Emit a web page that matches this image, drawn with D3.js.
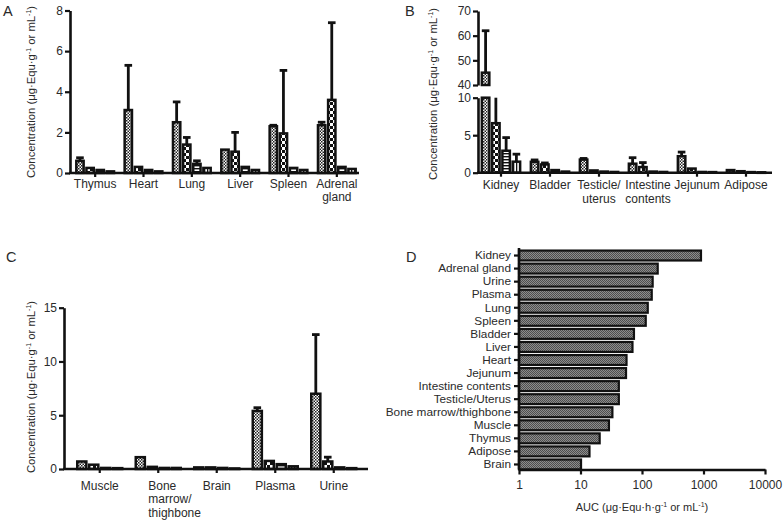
<!DOCTYPE html>
<html><head><meta charset="utf-8">
<script src="https://cdn.jsdelivr.net/npm/d3@7"></script>
<style>
body{margin:0;background:#fff;}
svg text{font-family:"Liberation Sans",Arial,sans-serif;fill:#2a2a2a;}
</style></head><body>
<svg id="chart" width="784" height="520"></svg>
<script>
// ---------------- data ----------------
const timePoints = ["t1", "t2", "t3", "t4"];

const catsA = ["Thymus", "Heart", "Lung", "Liver", "Spleen", "Adrenal gland"];
const labelsA = [["Thymus"], ["Heart"], ["Lung"], ["Liver"], ["Spleen"], ["Adrenal", "gland"]];
const meanA = [[0.6, 0.25, 0.15, 0.08], [3.1, 0.3, 0.15, 0.08], [2.5, 1.4, 0.45, 0.25],
               [1.15, 1.05, 0.3, 0.15], [2.3, 1.95, 0.25, 0.15], [2.35, 3.6, 0.3, 0.2]];
const sdA = [[0.15, 0, 0, 0], [2.2, 0, 0, 0], [1.0, 0.35, 0.15, 0],
             [0, 0.95, 0, 0], [0.05, 3.1, 0, 0], [0.15, 3.8, 0, 0]];
const ticksA = [0, 2, 4, 6, 8];

const catsB = ["Kidney", "Bladder", "Testicle/uterus", "Intestine contents", "Jejunum", "Adipose"];
const labelsB = [["Kidney"], ["Bladder"], ["Testicle/", "uterus"], ["Intestine", "contents"], ["Jejunum"], ["Adipose"]];
const meanB = [[45, 6.6, 2.93, 1.47], [1.45, 1.1, 0.35, 0.15], [1.75, 0.3, 0.15, 0.1],
               [1.2, 0.75, 0.15, 0.1], [2.2, 0.55, 0.1, 0.08], [0.35, 0.2, 0.08, 0.05]];
const sdB = [[17, 6.5, 1.75, 1.0], [0.25, 0.2, 0, 0], [0.15, 0, 0, 0],
             [0.8, 0.6, 0, 0], [0.55, 0, 0, 0], [0, 0, 0, 0]];
const ticksBLow = [0, 5, 10];
const ticksBHigh = [40, 50, 60, 70];

const catsC = ["Muscle", "Bone marrow/thighbone", "Brain", "Plasma", "Urine"];
const labelsC = [["Muscle"], ["Bone", "marrow/", "thighbone"], ["Brain"], ["Plasma"], ["Urine"]];
const meanC = [[0.7, 0.4, 0.1, 0.08], [1.1, 0.2, 0.1, 0.1], [0.15, 0.15, 0.1, 0.05],
               [5.4, 0.75, 0.45, 0.25], [7.0, 0.7, 0.15, 0.08]];
const sdC = [[0, 0, 0, 0], [0, 0, 0, 0], [0, 0, 0, 0], [0.3, 0, 0, 0], [5.5, 0.4, 0, 0]];
const ticksC = [0, 5, 10, 15];

const catsD = ["Kidney", "Adrenal gland", "Urine", "Plasma", "Lung", "Spleen", "Bladder", "Liver",
               "Heart", "Jejunum", "Intestine contents", "Testicle/Uterus", "Bone marrow/thighbone",
               "Muscle", "Thymus", "Adipose", "Brain"];
const aucD = [910, 180, 149, 144, 124, 115, 74, 70, 56, 55, 42, 42, 33, 29, 20.5, 14, 10.2];
const ticksD = [1, 10, 100, 1000, 10000];

// ---------------- drawing ----------------
const svg = d3.select("#chart");
const INK = "#111";
const defs = svg.append("defs");

function pattern(id, w, h, bg, shapes) {
  const p = defs.append("pattern").attr("id", id).attr("width", w).attr("height", h)
    .attr("patternUnits", "userSpaceOnUse");
  p.append("rect").attr("width", w).attr("height", h).attr("fill", bg);
  shapes.forEach(s => p.append("rect").attr("x", s[0]).attr("y", s[1]).attr("width", s[2]).attr("height", s[3]).attr("fill", s[4]));
}
pattern("pat0", 3, 3, "#fff", [[0, 0, 1.5, 1.5, "#222"], [1.5, 1.5, 1.5, 1.5, "#222"]]);
pattern("pat1", 6, 6, "#fff", [[0, 0, 3, 3, "#111"], [3, 3, 3, 3, "#111"]]);
pattern("pat2", 4, 3, "#fff", [[0, 0, 4, 1.4, "#111"]]);
pattern("pat3", 3, 4, "#fff", [[0, 0, 1.3, 4, "#111"]]);
pattern("patD", 2, 2, "#8c8c8c", [[0, 0, 1, 1, "#4e4e4e"], [1, 1, 1, 1, "#4e4e4e"]]);

function styleAxis(g, fs) {
  g.selectAll("path.domain").attr("stroke", INK).attr("stroke-width", 2.6);
  g.selectAll(".tick line").attr("stroke", INK).attr("stroke-width", 2.2);
  g.selectAll(".tick text").attr("font-size", fs || 12).attr("fill", "#2a2a2a")
    .attr("font-family", "'Liberation Sans', Arial, sans-serif");
}

function unitText(t, head) {
  t.append("tspan").text(head);
  t.append("tspan").text("-1").attr("font-size", 7).attr("dy", -4.5);
  t.append("tspan").text(" or mL").attr("dy", 4.5);
  t.append("tspan").text("-1").attr("font-size", 7).attr("dy", -4.5);
  t.append("tspan").text(")").attr("dy", 4.5);
}

function yTitle(x, y) {
  const t = svg.append("text").attr("transform", `translate(${x},${y}) rotate(-90)`)
    .attr("text-anchor", "middle").attr("font-size", 11.3).attr("fill", "#333");
  unitText(t, "Concentration (μg·Equ·g");
}

function panelLetter(x, y, s) {
  svg.append("text").attr("x", x).attr("y", y).attr("font-size", 14.5).attr("fill", "#222").text(s);
}

// grouped bar panel with one or more y segments
function groupedPanel(opt) {
  const x = d3.scaleBand().domain(opt.cats).range(opt.xRange)
    .paddingInner(opt.pad).paddingOuter(opt.pad / 2);
  const xi = d3.scaleBand().domain(timePoints).range([0, x.bandwidth()]).paddingInner(0.04);
  const g = svg.append("g");

  opt.segments.forEach(seg => {
    const y = seg.scale;
    const [lo, hi] = y.domain();
    const ay = g.append("g").attr("transform", `translate(${opt.axisX},0)`)
      .call(d3.axisLeft(y).tickValues(seg.ticks).tickSize(5).tickSizeOuter(0).tickPadding(2));
    styleAxis(ay);

    opt.cats.forEach((c, ci) => {
      timePoints.forEach((tp, ti) => {
        const m = opt.means[ci][ti], s = opt.sds[ci][ti];
        const bx = x(c) + xi(tp);
        if (m > lo) {
          const yTop = y(Math.min(m, hi)), yBot = y(lo);
          g.append("rect").attr("x", bx + 1.2).attr("y", yTop)
            .attr("width", xi.bandwidth() - 2.4).attr("height", Math.max(0.5, yBot - yTop))
            .attr("fill", `url(#pat${ti})`).attr("stroke", INK).attr("stroke-width", 2.5);
        }
        const top = m + s;
        if (s > 0 && top > lo && m < hi) {
          const cx = bx + xi.bandwidth() / 2;
          const y1 = y(Math.max(m, lo)), y2 = y(Math.min(top, hi));
          g.append("line").attr("x1", cx).attr("x2", cx).attr("y1", y1).attr("y2", y2)
            .attr("stroke", INK).attr("stroke-width", 2.8);
          if (top <= hi) {
            g.append("line").attr("x1", cx - 3.8).attr("x2", cx + 3.8).attr("y1", y2).attr("y2", y2)
              .attr("stroke", INK).attr("stroke-width", 2.8);
          }
        }
      });
    });
  });

  const baseY = opt.segments[0].scale(0);
  const ax = g.append("g").attr("transform", `translate(0,${baseY})`)
    .call(d3.axisBottom(x).tickSize(4).tickSizeOuter(0).tickFormat(""));
  ax.select("path.domain").attr("d", `M${opt.axisX - 1},0H${opt.xEnd}`);
  styleAxis(ax);

  opt.cats.forEach((c, ci) => {
    const lines = opt.labels[ci];
    const cx = x(c) + x.bandwidth() / 2;
    const multiLeft = opt.leftMulti && lines.length > 2;
    lines.forEach((ln, li) => {
      g.append("text").attr("x", multiLeft ? cx - 10 : cx)
        .attr("y", baseY + opt.labelDy + li * opt.lineH)
        .attr("text-anchor", multiLeft ? "start" : "middle")
        .attr("font-size", 12).text(ln);
    });
  });
}

// Panel A
groupedPanel({
  cats: catsA, labels: labelsA, means: meanA, sds: sdA,
  xRange: [71, 361], pad: 0.17, axisX: 70, xEnd: 359,
  segments: [{ scale: d3.scaleLinear().domain([0, 8]).range([173, 10.5]), ticks: ticksA }],
  labelDy: 15, lineH: 13
});
yTitle(35, 92);
panelLetter(3, 16, "A");

// Panel B (broken axis)
groupedPanel({
  cats: catsB, labels: labelsB, means: meanB, sds: sdB,
  xRange: [476.5, 770.5], pad: 0.17, axisX: 478, xEnd: 772,
  segments: [
    { scale: d3.scaleLinear().domain([0, 10]).range([172.7, 97.7]), ticks: ticksBLow },
    { scale: d3.scaleLinear().domain([40, 70]).range([85, 11]), ticks: ticksBHigh }
  ],
  labelDy: 16, lineH: 14.5
});
yTitle(437, 94);
panelLetter(405, 16, "B");

// Panel C
groupedPanel({
  cats: catsC, labels: labelsC, means: meanC, sds: sdC,
  xRange: [70.5, 363], pad: 0.19, axisX: 64, xEnd: 368,
  segments: [{ scale: d3.scaleLinear().domain([0, 15]).range([469, 307.7]), ticks: ticksC }],
  labelDy: 21, lineH: 13.3, leftMulti: true
});
yTitle(35, 387);
panelLetter(6, 262, "C");

// Panel D
(function () {
  const x = d3.scaleLog().domain([1, 10000]).range([519, 765]);
  const y = d3.scaleBand().domain(catsD).range([249, 471]).paddingInner(0.24).paddingOuter(0.12);
  const g = svg.append("g");
  catsD.forEach((c, i) => {
    g.append("rect").attr("x", x(1)).attr("y", y(c))
      .attr("width", x(aucD[i]) - x(1)).attr("height", y.bandwidth())
      .attr("fill", "url(#patD)").attr("stroke", INK).attr("stroke-width", 2.2);
  });
  const ay = g.append("g").attr("transform", `translate(${x(1)},0)`)
    .call(d3.axisLeft(y).tickSize(5).tickSizeOuter(0).tickPadding(3));
  ay.select("path.domain").attr("d", "M0,248V469.5");
  styleAxis(ay, 11.8);
  const ax = g.append("g").attr("transform", "translate(0,469.5)")
    .call(d3.axisBottom(x).tickValues(ticksD).tickFormat(d3.format("d")).tickSize(5).tickSizeOuter(0).tickPadding(6));
  styleAxis(ax, 12);
  const t = svg.append("text").attr("x", 642).attr("y", 511).attr("text-anchor", "middle")
    .attr("font-size", 11).attr("fill", "#333");
  unitText(t, "AUC (μg·Equ·h·g");
  panelLetter(406, 262, "D");
})();
</script>
</body></html>
